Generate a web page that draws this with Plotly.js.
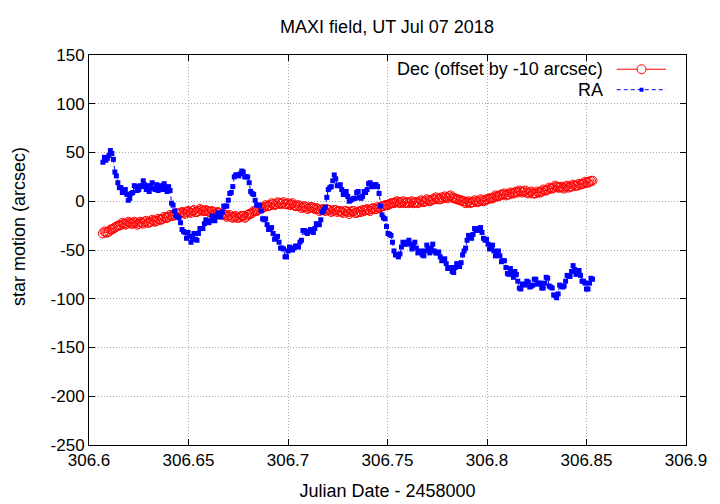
<!DOCTYPE html>
<html>
<head>
<meta charset="utf-8">
<script src="https://cdn.plot.ly/plotly-3.0.1.min.js"></script>
<style>html,body{margin:0;padding:0;background:#fff}#chart{width:720px;height:504px}</style>
</head>
<body>
<div id="chart"></div>
<script>
// Julian Date - 2458000
const jd = [
306.60700,306.60775,306.60850,306.60925, 306.61000,306.61075,306.61150,306.61225,
306.61300,306.61375,306.61450,306.61525, 306.61600,306.61675,306.61750,306.61825,
306.61900,306.61975,306.62050,306.62125, 306.62200,306.62275,306.62350,306.62425,
306.62500,306.62575,306.62650,306.62725, 306.62800,306.62875,306.62950,306.63025,
306.63100,306.63175,306.63250,306.63325, 306.63400,306.63475,306.63550,306.63625,
306.63700,306.63775,306.63850,306.63925, 306.64000,306.64075,306.64150,306.64225,
306.64300,306.64375,306.64450,306.64525, 306.64600,306.64675,306.64750,306.64825,
306.64900,306.64975,306.65050,306.65125, 306.65200,306.65275,306.65350,306.65425,
306.65500,306.65575,306.65650,306.65725, 306.65800,306.65875,306.65950,306.66025,
306.66100,306.66175,306.66250,306.66325, 306.66400,306.66475,306.66550,306.66625,
306.66700,306.66775,306.66850,306.66925, 306.67000,306.67075,306.67150,306.67225,
306.67300,306.67375,306.67450,306.67525, 306.67600,306.67675,306.67750,306.67825,
306.67900,306.67975,306.68050,306.68125, 306.68200,306.68275,306.68350,306.68425,
306.68500,306.68575,306.68650,306.68725, 306.68800,306.68875,306.68950,306.69025,
306.69100,306.69175,306.69250,306.69325, 306.69400,306.69475,306.69550,306.69625,
306.69700,306.69775,306.69850,306.69925, 306.70000,306.70075,306.70150,306.70225,
306.70300,306.70375,306.70450,306.70525, 306.70600,306.70675,306.70750,306.70825,
306.70900,306.70975,306.71050,306.71125, 306.71200,306.71275,306.71350,306.71425,
306.71500,306.71575,306.71650,306.71725, 306.71800,306.71875,306.71950,306.72025,
306.72100,306.72175,306.72250,306.72325, 306.72400,306.72475,306.72550,306.72625,
306.72700,306.72775,306.72850,306.72925, 306.73000,306.73075,306.73150,306.73225,
306.73300,306.73375,306.73450,306.73525, 306.73600,306.73675,306.73750,306.73825,
306.73900,306.73975,306.74050,306.74125, 306.74200,306.74275,306.74350,306.74425,
306.74500,306.74575,306.74650,306.74725, 306.74800,306.74875,306.74950,306.75025,
306.75100,306.75175,306.75250,306.75325, 306.75400,306.75475,306.75550,306.75625,
306.75700,306.75775,306.75850,306.75925, 306.76000,306.76075,306.76150,306.76225,
306.76300,306.76375,306.76450,306.76525, 306.76600,306.76675,306.76750,306.76825,
306.76900,306.76975,306.77050,306.77125, 306.77200,306.77275,306.77350,306.77425,
306.77500,306.77575,306.77650,306.77725, 306.77800,306.77875,306.77950,306.78025,
306.78100,306.78175,306.78250,306.78325, 306.78400,306.78475,306.78550,306.78625,
306.78700,306.78775,306.78850,306.78925, 306.79000,306.79075,306.79150,306.79225,
306.79300,306.79375,306.79450,306.79525, 306.79600,306.79675,306.79750,306.79825,
306.79900,306.79975,306.80050,306.80125, 306.80200,306.80275,306.80350,306.80425,
306.80500,306.80575,306.80650,306.80725, 306.80800,306.80875,306.80950,306.81025,
306.81100,306.81175,306.81250,306.81325, 306.81400,306.81475,306.81550,306.81625,
306.81700,306.81775,306.81850,306.81925, 306.82000,306.82075,306.82150,306.82225,
306.82300,306.82375,306.82450,306.82525, 306.82600,306.82675,306.82750,306.82825,
306.82900,306.82975,306.83050,306.83125, 306.83200,306.83275,306.83350,306.83425,
306.83500,306.83575,306.83650,306.83725, 306.83800,306.83875,306.83950,306.84025,
306.84100,306.84175,306.84250,306.84325, 306.84400,306.84475,306.84550,306.84625,
306.84700,306.84775,306.84850,306.84925, 306.85000,306.85075,306.85150,306.85225,
306.85300
];

// Dec (offset by -10 arcsec), arcsec
const dec = [
-33,-31,-32,-32, -31,-29,-29,-28,
-27,-26,-25,-25, -24,-22,-23,-24,
-23,-21,-22,-23, -23,-21,-22,-24,
-23,-21,-22,-23, -21,-20,-22,-22,
-21,-19,-20,-21, -20,-18,-19,-19,
-18,-16,-17,-17, -16,-14,-15,-15,
-14,-12,-13,-13, -12,-11,-12,-13,
-11,-10,-11,-12, -10,-9,-11,-11,
-10,-8,-9,-10, -10,-9,-10,-11,
-11,-10,-11,-13, -12,-11,-12,-14,
-13,-13,-14,-16, -15,-14,-16,-17,
-16,-15,-17,-17, -16,-15,-15,-17,
-16,-14,-13,-13, -12,-10,-10,-10,
-9,-7,-7,-7, -6,-4,-5,-5,
-4,-2,-3,-4, -3,-1,-2,-3,
-2,-1,-3,-3, -2,-4,-3,-2,
-4,-5,-5,-4, -5,-7,-6,-5,
-6,-8,-7,-6, -6,-7,-8,-7,
-8,-10,-9,-8, -9,-10,-8,-9,
-9,-11,-10,-9, -9,-11,-10,-10,
-11,-12,-10,-10, -11,-13,-11,-10,
-10,-12,-12,-11, -10,-11,-9,-10,
-9,-8,-9,-10, -8,-7,-8,-8,
-6,-7,-6,-5, -5,-4,-4,-4,
-3,-2,-2,-2, -1,0,-1,-2,
-1,0,-2,-1, -1,-2,-1,0,
-2,-1,-1,-2, -1,1,0,-1,
0,2,1,0, 1,2,2,4,
3,2,2,4, 3,5,4,3,
5,6,4,3, 3,2,2,1,
1,0,0,-2, -1,0,-2,-1,
-1,1,0,-1, 0,2,1,0,
1,2,2,3, 3,3,4,6,
5,5,6,7, 7,8,6,7,
7,9,8,8, 9,10,9,11,
10,9,10,11, 9,8,9,10,
8,8,8,10, 9,9,10,12,
11,11,12,14, 13,13,14,16,
15,14,14,15, 14,13,15,16,
14,15,15,17, 16,16,16,18,
17,18,18,20, 19,19,20,21,
21
];

// RA, arcsec
const ra = [
40,45,42,44, 47,52,49,43,
30,26,19,14, 14,9,10,12,
7,1,3,8, 9,16,15,11,
12,16,15,21, 17,12,16,10,
14,19,13,12, 17,11,15,16,
12,18,14,10, 15,11,-2,-4,
-10,-15,-16,-17, -22,-29,-31,-32,
-38,-32,-36,-42, -37,-33,-39,-40,
-33,-28,-28,-28, -23,-19,-21,-22,
-20,-15,-17,-20, -16,-12,-14,-16,
-11,-5,-5,-5, 1,8,9,15,
25,27,27,26, 28,31,30,25,
25,25,19,10, 8,7,1,-4,
-4,-4,-10,-18, -19,-18,-24,-29,
-28,-27,-33,-39, -38,-36,-42,-48,
-48,-49,-57,-57, -51,-47,-49,-50,
-48,-46,-46,-47, -42,-40,-30,-30,
-32,-33,-31,-29, -30,-32,-28,-23,
-24,-24,-19,-11, -9,-6,4,12,
14,15,21,27, 23,16,16,17,
12,7,9,10, 5,0,1,2,
3,3,9,10, 4,3,5,10,
9,12,18,19, 15,15,17,17,
15,8,-5,-14, -17,-18,-26,-33,
-34,-35,-42,-51, -55,-55,-57,-54,
-47,-42,-44,-44, -42,-40,-44,-49,
-46,-42,-48,-53, -52,-51,-55,-56,
-51,-45,-49,-53, -48,-44,-51,-53,
-53,-52,-57,-61, -60,-59,-64,-69,
-69,-68,-72,-73, -68,-64,-66,-67,
-63,-55,-51,-48, -40,-35,-37,-38,
-34,-28,-29,-30, -28,-27,-32,-38,
-40,-39,-44,-49, -47,-45,-51,-56,
-55,-51,-56,-62, -61,-61,-68,-74,
-75,-69,-73,-78, -72,-75,-82,-89,
-90,-85,-85,-86, -82,-83,-88,-87,
-86,-80,-80,-85, -84,-84,-89,-89,
-84,-78,-79,-87, -88,-89,-96,-97,
-99,-95,-86,-87, -88,-87,-82,-76,
-77,-77,-72,-66, -70,-75,-73,-71,
-76,-82,-82,-84, -90,-90,-84,-79,
-80
];

const xTickVals = [306.6, 306.65, 306.7, 306.75, 306.8, 306.85, 306.9];
const xTickText = ["306.6", "306.65", "306.7", "306.75", "306.8", "306.85", "306.9"];
const yTickVals = [-250, -200, -150, -100, -50, 0, 50, 100, 150];
const yTickText = ["-250", "-200", "-150", "-100", "-50", "0", "50", "100", "150"];

const seriesNames = ["Dec (offset by -10 arcsec)", "RA"];
const yTitle = "star motion (arcsec)";

const FONT = "Liberation Sans, Arial, sans-serif";

const traces = [
  {
    x: jd, y: dec, name: seriesNames[0], type: "scatter", mode: "lines+markers",
    line: {color: "#ff0000", width: 1},
    marker: {symbol: "circle-open", size: 9, color: "#ff0000", line: {color: "#ff0000", width: 1}},
    showlegend: false
  },
  {
    x: jd, y: ra, name: seriesNames[1], type: "scatter", mode: "lines+markers",
    line: {color: "#0000ff", width: 1, dash: "4px,3px"},
    marker: {symbol: "square", size: 5, color: "#0000ff"},
    showlegend: false
  }
];

const axisCommon = {
  showline: true, linecolor: "#000", linewidth: 1, mirror: "ticks",
  ticks: "inside", ticklen: 6, tickcolor: "#000", tickwidth: 1,
  showgrid: true, gridcolor: "#a8a8a8", griddash: "1px,2px", gridwidth: 1,
  zeroline: false, tickfont: {family: FONT, size: 17, color: "#000"}
};

// gnuplot-style key (text on the left, sample on the right)
const keyY = [0.9635, 0.911];
const layout = {
  width: 720, height: 504,
  margin: {l: 89, r: 34, t: 55, b: 59},
  paper_bgcolor: "#fff", plot_bgcolor: "#fff",
  title: {text: "MAXI field, UT Jul 07 2018", font: {family: FONT, size: 18, color: "#000"},
          x: 0.5375, xanchor: "center", y: 0.948, yanchor: "middle"},
  xaxis: Object.assign({}, axisCommon, {
    range: [306.6, 306.9], tickmode: "array", tickvals: xTickVals, ticktext: xTickText,
    title: {text: "Julian Date - 2458000", font: {family: FONT, size: 18, color: "#000"}, standoff: 14}
  }),
  yaxis: Object.assign({}, axisCommon, {
    range: [-250, 150], tickmode: "array", tickvals: yTickVals, ticktext: yTickText
  }),
  annotations: [
    {xref: "paper", yref: "paper", x: -0.1173, y: 0.5615, xanchor: "center", yanchor: "middle",
     text: yTitle, textangle: -90, showarrow: false, borderpad: 0,
     font: {family: FONT, size: 18, color: "#000"}},
    {xref: "paper", yref: "paper", x: 0.8626, y: keyY[0], xanchor: "right", yanchor: "middle",
     text: seriesNames[0], showarrow: false, borderpad: 0,
     font: {family: FONT, size: 18, color: "#000"}},
    {xref: "paper", yref: "paper", x: 0.8626, y: keyY[1], xanchor: "right", yanchor: "middle",
     text: seriesNames[1], showarrow: false, borderpad: 0,
     font: {family: FONT, size: 18, color: "#000"}}
  ],
  shapes: [
    {type: "line", xref: "paper", yref: "paper", x0: 0.884, x1: 0.9665, y0: keyY[0], y1: keyY[0],
     line: {color: "#ff0000", width: 1}},
    {type: "circle", xref: "paper", yref: "paper", xsizemode: "pixel", ysizemode: "pixel",
     xanchor: 0.9255, yanchor: keyY[0], x0: -4.5, x1: 4.5, y0: -4.5, y1: 4.5,
     line: {color: "#ff0000", width: 1}, fillcolor: "#fff"},
    {type: "line", xref: "paper", yref: "paper", x0: 0.884, x1: 0.9665, y0: keyY[1], y1: keyY[1],
     line: {color: "#0000ff", width: 1, dash: "4px,3px"}},
    {type: "rect", xref: "paper", yref: "paper", xsizemode: "pixel", ysizemode: "pixel",
     xanchor: 0.9255, yanchor: keyY[1], x0: -2, x1: 2, y0: -2, y1: 2,
     line: {color: "#0000ff", width: 0}, fillcolor: "#0000ff"}
  ]
};

Plotly.newPlot("chart", traces, layout, {staticPlot: true, displayModeBar: false});
</script>
</body>
</html>
